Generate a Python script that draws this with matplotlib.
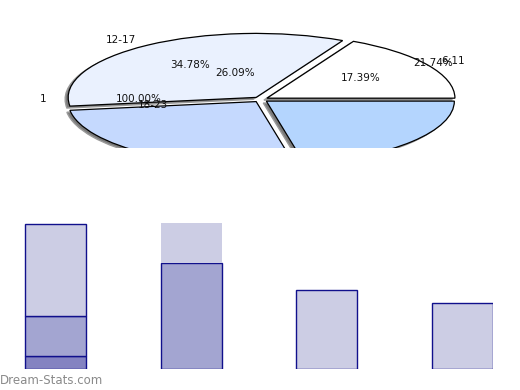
import matplotlib
matplotlib.use("Agg")
import matplotlib.pyplot as plt

# ---- data ----
pie_labels = ['1', '12-17', '18-23', '6-11']
pie_values = [4, 8, 6, 5]
pie_total_label = '100.00%'

bar_categories = ['A', 'B', 'C', 'D']
bar_dark = [1, 0, 0, 0]
bar_medium = [3, 8, 0, 0]
bar_light = [7, 4, 6, 5]

W, H = 520, 390
fig = plt.figure(figsize=(W / 100, H / 100), dpi=100)

# ---- pie (squashed, exploded, clipped at the bottom) ----
cx, cy, rx, ry = 260.5, 99.5, 188, 64
pie_bottom = 148
axp = fig.add_axes([0, (H - pie_bottom) / H, 1, pie_bottom / H])
colors = ['#ffffff', '#eaf1fe', '#c5d9fe', '#b4d5fe']
explode = [0.04] * len(pie_values)
sh, _ = axp.pie(pie_values, colors=['#7a7a7a'] * 4, explode=explode, center=(-0.016, -0.03),
                wedgeprops=dict(edgecolor='#9a9a9a', linewidth=1))
wd, _ = axp.pie(pie_values, colors=colors, explode=explode,
                wedgeprops=dict(edgecolor='black', linewidth=0.9))
for w in list(sh) + list(wd):
    w.set_clip_on(True)
    w.set_clip_path(axp.patch)
axp.set_aspect('auto')
axp.set_xlim(-cx / rx, (W - cx) / rx)
axp.set_ylim(-(pie_bottom - cy) / ry, cy / ry)
axp.axis('off')

total = sum(pie_values)
pcts = ['%.2f%%' % (v / total * 100) for v in pie_values]

def ftext(px, py, s):
    fig.text(px / W, 1 - py / H, s, ha='center', va='center', fontsize=7.5, color='#111111')

# label positions (pixels)
label_pos = {'1': (43, 99), '12-17': (121, 40), '18-23': (153, 105), '6-11': (453, 61)}
pct_pos = [(361, 78), (190, 65), (235, 73), (433, 63)]
for lab, pct, pp in zip(pie_labels, pcts, pct_pos):
    ftext(*label_pos[lab], lab)
    ftext(*pp, pct)
ftext(139, 99, pie_total_label)

# ---- bars ----
bx_left, bx_right, by_top, by_bottom = 0, 493, 223.5, 369
axb = fig.add_axes([bx_left / W, (H - by_bottom) / H, (bx_right - bx_left) / W, (by_bottom - by_top) / H])
x = list(range(len(bar_categories)))
navy = '#10108c'
width = 0.45
bottoms2 = [a + b for a, b in zip(bar_dark, bar_medium)]
axb.bar(x, bar_dark, width, color='#8483c1',
        edgecolor=[navy if v > 0 else 'none' for v in bar_dark], linewidth=1)
axb.bar(x, bar_medium, width, bottom=bar_dark, color='#a3a5d1',
        edgecolor=[navy if v > 0 else 'none' for v in bar_medium], linewidth=1)
axb.bar(x, bar_light, width, bottom=bottoms2, color='#cccde4',
        edgecolor=[navy, 'none', navy, navy], linewidth=1)
spacing = 135.67
axb.set_xlim(-55.5 / spacing, (bx_right - 55.5) / spacing)
axb.set_ylim(0, 11.03)
axb.axis('off')

fig.text(0, 1 - 384 / H, 'Dream-Stats.com', ha='left', va='baseline', fontsize=8.5, color='#8a8a8a')

fig.savefig('out.png', dpi=100)
